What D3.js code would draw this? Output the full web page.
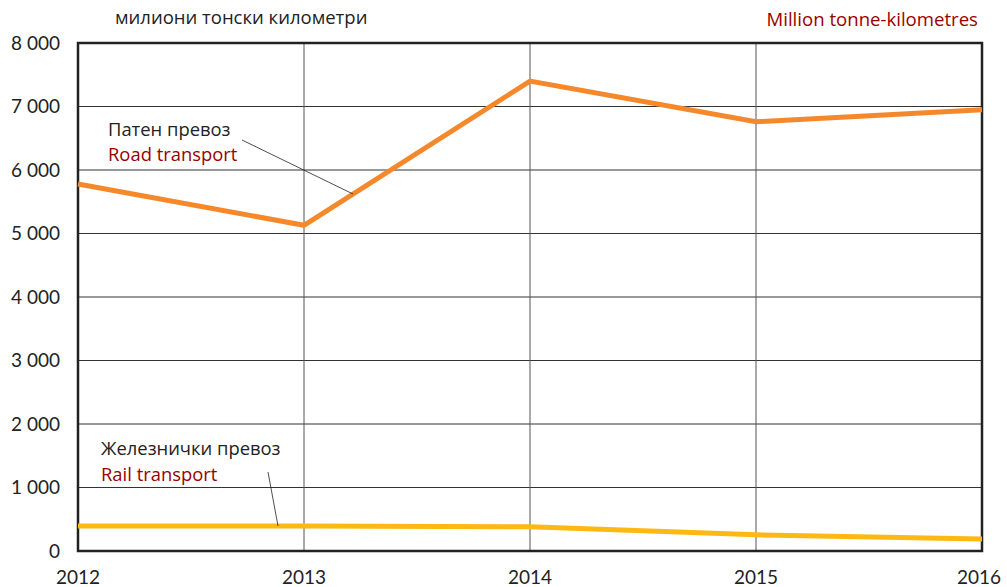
<!DOCTYPE html>
<html>
<head>
<meta charset="utf-8">
<script src="https://cdn.jsdelivr.net/npm/d3@7"></script>
<style>
  html, body { margin: 0; padding: 0; background: #fff; }
  svg { display: block; font-family: Lato, "Open Sans", sans-serif; }
  .lbl { font-family: "Open Sans", Lato, sans-serif; }
</style>
</head>
<body>
<svg id="chart" width="1007" height="587"></svg>
<script>
const years = [2012, 2013, 2014, 2015, 2016];
const roadValues = [5780, 5130, 7400, 6760, 6950];
const railValues = [395, 395, 380, 255, 190];
const yTicks = [0, 1000, 2000, 3000, 4000, 5000, 6000, 7000, 8000];

const W = 1007, H = 587;
const MARGIN = { top: 43, right: 25, bottom: 36, left: 78 };
const DARK_RED = "#990000";

const svg = d3.select("#chart");

const x = d3.scaleLinear()
  .domain([2012, 2016])
  .range([MARGIN.left, W - MARGIN.right]);

const y = d3.scaleLinear()
  .domain([0, 8000])
  .range([H - MARGIN.bottom, MARGIN.top]);

const fmt = v => v === 0 ? "0" : d3.format(",")(v).replace(",", " ");

// horizontal gridlines
svg.append("g")
  .selectAll("line")
  .data(yTicks)
  .join("line")
    .attr("x1", x(2012)).attr("x2", x(2016))
    .attr("y1", d => y(d)).attr("y2", d => y(d))
    .attr("stroke", "#333").attr("stroke-width", 1);

// vertical gridlines
svg.append("g")
  .selectAll("line")
  .data(years)
  .join("line")
    .attr("x1", d => x(d)).attr("x2", d => x(d))
    .attr("y1", y(8000)).attr("y2", y(0))
    .attr("stroke", "#555").attr("stroke-width", 1);

// frame
svg.append("rect")
  .attr("x", x(2012)).attr("y", y(8000))
  .attr("width", x(2016) - x(2012))
  .attr("height", y(0) - y(8000))
  .attr("fill", "none")
  .attr("stroke", "#222").attr("stroke-width", 2.5);

// y tick labels
svg.append("g")
  .selectAll("text")
  .data(yTicks)
  .join("text")
    .attr("x", 60)
    .attr("y", d => y(d))
    .attr("dy", "0.35em")
    .attr("text-anchor", "end")
    .attr("font-size", 19)
    .attr("fill", "#222")
    .text(fmt);

// x tick labels
svg.append("g")
  .selectAll("text")
  .data(years)
  .join("text")
    .attr("x", d => x(d))
    .attr("y", 584)
    .attr("text-anchor", d => d === 2016 ? "end" : "middle")
    .attr("dx", d => d === 2016 ? 19 : 0)
    .attr("font-size", 19)
    .attr("fill", "#222")
    .text(d => d);

// lines
const line = d3.line()
  .x((d, i) => x(years[i]))
  .y(d => y(d));

svg.append("path")
  .datum(roadValues)
  .attr("d", line)
  .attr("fill", "none")
  .attr("stroke", "#f5882a")
  .attr("stroke-width", 5);

svg.append("path")
  .datum(railValues)
  .attr("d", line)
  .attr("fill", "none")
  .attr("stroke", "#fdb813")
  .attr("stroke-width", 5);

// titles
svg.append("text")
  .attr("class", "lbl")
  .attr("x", 115).attr("y", 24)
  .attr("font-size", 18.5).attr("fill", "#222")
  .text("милиони тонски километри");

svg.append("text")
  .attr("class", "lbl")
  .attr("x", 978).attr("y", 26)
  .attr("text-anchor", "end")
  .attr("font-size", 18.6).attr("fill", DARK_RED)
  .text("Million tonne-kilometres");

// annotations
const ann = svg.append("g").attr("class", "lbl").attr("font-size", 18.4);
ann.append("text").attr("x", 108).attr("y", 136).attr("fill", "#222").text("Патен превоз");
ann.append("text").attr("x", 108).attr("y", 161).attr("fill", DARK_RED).text("Road transport");
ann.append("text").attr("x", 101).attr("y", 455).attr("fill", "#222").text("Железнички превоз");
ann.append("text").attr("x", 101).attr("y", 481).attr("fill", DARK_RED).text("Rail transport");

// leader lines
ann.append("line")
  .attr("x1", 242).attr("y1", 140).attr("x2", 353).attr("y2", 194)
  .attr("stroke", "#222").attr("stroke-width", 0.8);
ann.append("line")
  .attr("x1", 268).attr("y1", 472).attr("x2", 278).attr("y2", 526)
  .attr("stroke", "#222").attr("stroke-width", 0.8);
</script>
</body>
</html>
